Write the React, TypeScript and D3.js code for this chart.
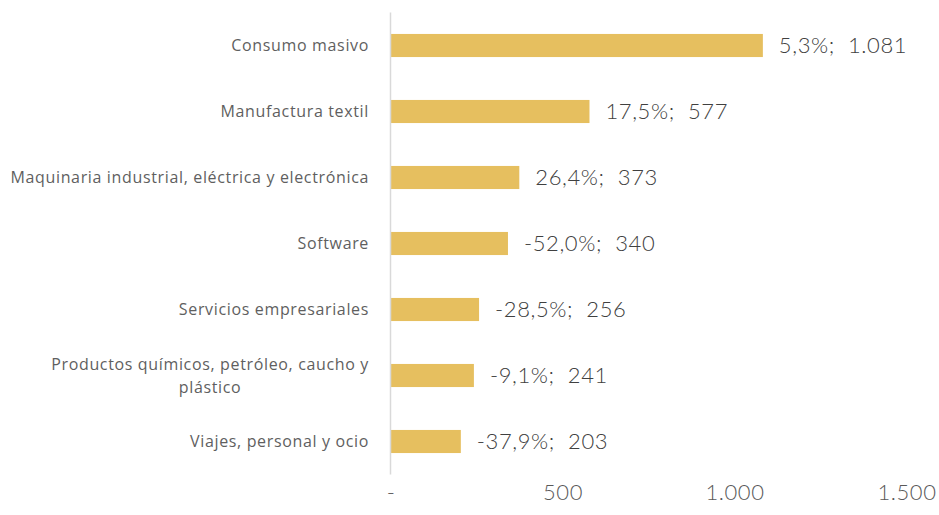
import React, { useEffect, useRef } from 'react';
import * as d3 from 'd3';

const categories = [
  'Consumo masivo',
  'Manufactura textil',
  'Maquinaria industrial, eléctrica y electrónica',
  'Software',
  'Servicios empresariales',
  'Productos químicos, petróleo, caucho y|plástico',
  'Viajes, personal y ocio',
];
const values = [1081, 577, 373, 340, 256, 241, 203];
const changes = ['5,3%', '17,5%', '26,4%', '-52,0%', '-28,5%', '-9,1%', '-37,9%'];
const ticks = [0, 500, 1000, 1500];
const tickLabels = ['-', '500', '1.000', '1.500'];

export default function App() {
  const ref = useRef<SVGSVGElement>(null);

  useEffect(() => {
    document.body.style.margin = '0';
    if (!ref.current) return;
    const svg = d3.select(ref.current);
    svg.selectAll('*').remove();

    const x = d3.scaleLinear().domain([0, 1500]).range([391, 907]);
    const y = d3.scaleBand().domain(categories).range([12.5, 474.5]).paddingInner(0.65).paddingOuter(0.325);

    // bars
    svg.append('g')
      .selectAll('rect')
      .data(categories)
      .join('rect')
      .attr('x', x(0))
      .attr('y', d => y(d)!)
      .attr('width', (d, i) => x(values[i]) - x(0))
      .attr('height', y.bandwidth())
      .attr('fill', '#E6BF5F');

    // axis line
    svg.append('line')
      .attr('x1', x(0) - 0.5).attr('x2', x(0) - 0.5)
      .attr('y1', 12.5).attr('y2', 474.5)
      .attr('stroke', '#d9d9d9').attr('stroke-width', 1.5);

    // value labels
    svg.append('g')
      .selectAll('text')
      .data(categories)
      .join('text')
      .attr('x', (d, i) => x(values[i]) + 16)
      .attr('y', d => y(d)! + y.bandwidth() / 2)
      .attr('dy', '0.36em')
      .attr('font-family', 'Lato, sans-serif')
      .attr('font-weight', 300)
      .attr('font-size', 22)
      .attr('letter-spacing', 0.6)
      .attr('fill', '#404040')
      .style('white-space', 'pre')
      .text((d, i) => `${changes[i]};  ${d3.format(',')(values[i]).replace(/,/g, '.')}`);

    // category labels
    const right = 369;
    categories.forEach(c => {
      const lines = c.split('|');
      const cy = y(c)! + y.bandwidth() / 2;
      const lh = 23;
      const t = svg.append('text')
        .attr('font-family', '"Open Sans", sans-serif')
        .attr('font-size', 16)
        .attr('letter-spacing', 0.65)
        .attr('fill', '#5f5f5f');
      if (lines.length === 1) {
        t.attr('x', right).attr('y', cy).attr('dy', '0.35em').attr('text-anchor', 'end').text(c);
      } else {
        const spans = lines.map((l, k) =>
          t.append('tspan').attr('y', cy + (k - (lines.length - 1) / 2) * lh).attr('dy', '0.35em').text(l));
        const w = d3.max(spans, s => (s.node() as SVGTextContentElement).getComputedTextLength())!;
        t.attr('text-anchor', 'middle');
        spans.forEach(s => s.attr('x', right - w / 2));
      }
    });

    // x tick labels
    svg.append('g')
      .selectAll('text')
      .data(ticks)
      .join('text')
      .attr('x', d => x(d))
      .attr('y', 492)
      .attr('dy', '0.36em')
      .attr('text-anchor', 'middle')
      .attr('font-family', 'Lato, sans-serif')
      .attr('font-weight', 300)
      .attr('font-size', 22)
      .attr('letter-spacing', 0.6)
      .attr('fill', '#595959')
      .text((d, i) => tickLabels[i]);
  }, []);

  return <svg ref={ref} width={939} height={515} style={{ display: 'block', background: '#fff' }} />;
}
